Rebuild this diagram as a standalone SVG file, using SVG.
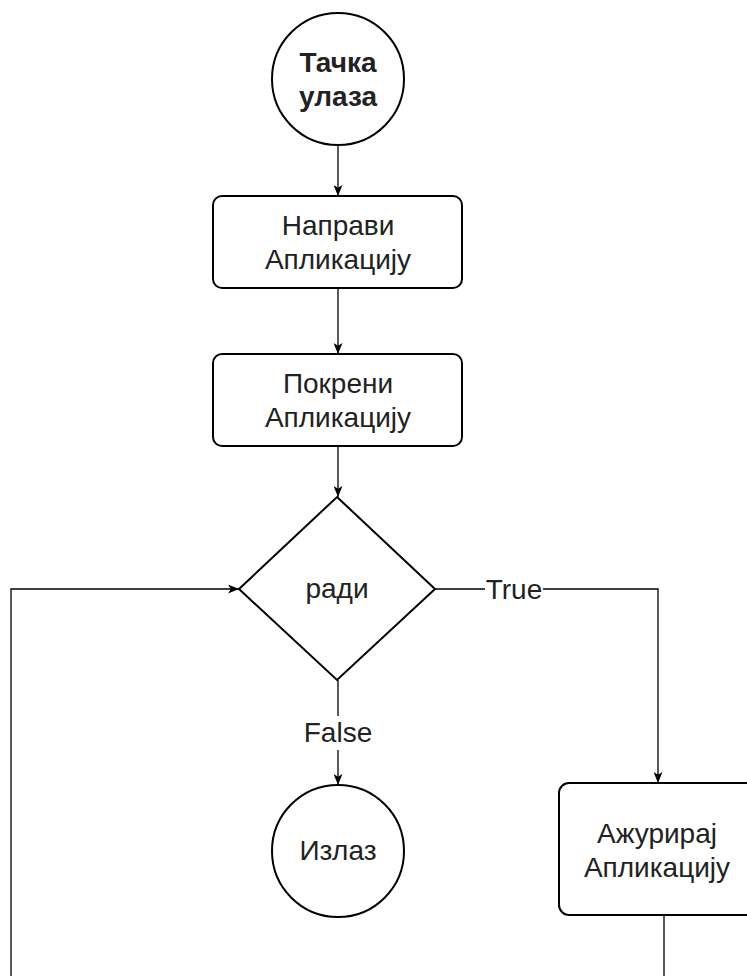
<svg xmlns="http://www.w3.org/2000/svg" width="747" height="976" viewBox="0 0 747 976">
  <defs>
    <marker id="arrow" viewBox="0 0 11 9" refX="11" refY="4.5" markerWidth="11" markerHeight="9" markerUnits="userSpaceOnUse" orient="auto">
      <path d="M0,0 L11,4.5 L0,9 L2.8,4.5 Z" fill="#000"/>
    </marker>
    <style>
      .shape { fill: #fff; stroke: #000; stroke-width: 2; }
      .conn { fill: none; stroke: #000; stroke-width: 1.3; }
      .txt { font-family: "Liberation Sans", Arial, sans-serif; font-size: 28px; fill: #222; text-anchor: middle; }
      .bold { font-weight: bold; }
      .lbl { fill: #fff; stroke: none; }
    </style>
  </defs>
  <rect width="747" height="976" fill="#fff"/>

  <g id="connectors">
    <path class="conn" d="M338,145 V196" marker-end="url(#arrow)"/>
    <path class="conn" d="M338,288 V354" marker-end="url(#arrow)"/>
    <path class="conn" d="M338,446 V497" marker-end="url(#arrow)"/>
    <path class="conn" d="M435,589 H658 V783" marker-end="url(#arrow)"/>
    <path class="conn" d="M338,680 V785" marker-end="url(#arrow)"/>
    <path class="conn" d="M664,915 V1000 H11 V589 H239" marker-end="url(#arrow)"/>
    <g id="label-true">
      <rect class="lbl" x="485" y="575" width="58" height="28"/>
      <text class="txt" x="514" y="599">True</text>
    </g>
    <g id="label-false">
      <rect class="lbl" x="302" y="716" width="72" height="34"/>
      <text class="txt" x="338" y="742">False</text>
    </g>
  </g>

  <g id="start">
    <circle class="shape" cx="338" cy="79" r="66"/>
    <text class="txt bold" x="338" y="72">Тачка</text>
    <text class="txt bold" x="338" y="106">улаза</text>
  </g>

  <g id="create-app">
    <rect class="shape" x="213" y="196" width="249" height="92" rx="9"/>
    <text class="txt" x="338" y="235">Направи</text>
    <text class="txt" x="338" y="269">Апликацију</text>
  </g>

  <g id="run-app">
    <rect class="shape" x="213" y="354" width="249" height="92" rx="9"/>
    <text class="txt" x="338" y="393">Покрени</text>
    <text class="txt" x="338" y="427">Апликацију</text>
  </g>

  <g id="decision">
    <polygon class="shape" points="337,497 435,589 337,680 239,589"/>
    <text class="txt" x="337" y="598">ради</text>
  </g>

  <g id="exit">
    <circle class="shape" cx="338" cy="851" r="66"/>
    <text class="txt" x="338" y="860">Излаз</text>
  </g>

  <g id="update-app">
    <rect class="shape" x="559" y="783" width="204" height="132" rx="10"/>
    <text class="txt" x="657" y="843">Ажурирај</text>
    <text class="txt" x="657" y="877">Апликацију</text>
  </g>
</svg>
